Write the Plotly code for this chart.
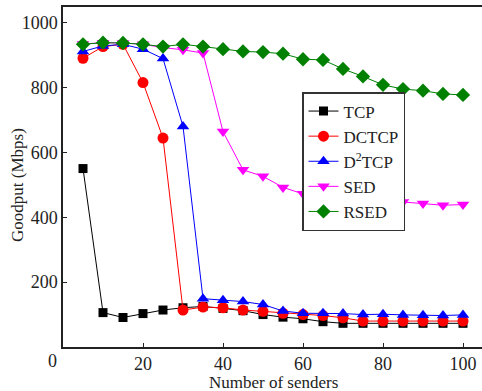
import plotly.graph_objects as go

senders = [5, 10, 15, 20, 25, 30, 35, 40, 45, 50, 55, 60, 65, 70, 75, 80, 85, 90, 95, 100]
tcp = [550, 106, 91, 103, 114, 121, 125, 119, 112, 100, 92, 87, 78, 73, 73, 73, 73, 73, 73, 73]
dctcp = [890, 926, 933, 815, 644, 114, 123, 121, 114, 110, 104, 100, 97, 90, 80, 80, 80, 80, 80, 80]
d2tcp = [911, 928, 933, 918, 889, 680, 149, 144, 140, 131, 111, 104, 104, 103, 100, 101, 99, 98, 97, 99]
sed = [934, 938, 937, 933, 923, 916, 906, 664, 546, 526, 492, 472, 465, 463, 463, 457, 447, 442, 437, 439]
rsed = [933, 938, 937, 933, 926, 933, 926, 918, 911, 909, 904, 887, 885, 857, 834, 808, 795, 790, 780, 777]

series = [
    ("TCP", tcp, "#000000", "square", 9),
    ("DCTCP", dctcp, "#ff0000", "circle", 11),
    ("D<sup>2</sup>TCP", d2tcp, "#0000ff", "triangle-up", 11),
    ("SED", sed, "#ff00ff", "triangle-down", 11),
    ("RSED", rsed, "#008000", "diamond", 11),
]

W, H = 482, 391
L, R, T, B = 63, 0, 7, 44
pw, ph = W - L - R, H - T - B

fig = go.Figure()
for name, ys, color, sym, size in series:
    fig.add_trace(go.Scatter(
        x=senders, y=ys, name=name, mode="lines+markers",
        line=dict(color=color, width=1),
        marker=dict(symbol=sym, size=size, color=color),
    ))

SERIF = "Liberation Serif"
font = dict(family=SERIF, size=18, color="#222")
title_font = dict(family=SERIF, size=17, color="#222")

def px(xpix):
    return (xpix - L) / pw

def py(ypix):
    return (H - B - ypix) / ph

fig.update_layout(
    width=W, height=H,
    margin=dict(l=L, r=R, t=T, b=B, autoexpand=False),
    plot_bgcolor="white", paper_bgcolor="white",
    font=font,
    showlegend=True,
    legend=dict(x=px(302), y=py(92), xanchor="left", yanchor="top",
                bgcolor="white", bordercolor="#333", borderwidth=1.5,
                font=dict(family=SERIF, size=17, color="#222"),
                itemwidth=30),
    xaxis=dict(range=[0, (W - L) / 4.0], tickvals=[20, 40, 60, 80, 100],
               ticks="inside", ticklen=4, tickcolor="#222",
               showline=True, linecolor="#222", linewidth=1.5, mirror=True,
               showgrid=False, zeroline=False, automargin=False),
    yaxis=dict(range=[0, 1048], tickvals=[200, 400, 600, 800, 1000],
               ticks="inside", ticklen=4, tickcolor="#222",
               showline=True, linecolor="#222", linewidth=1.5, mirror=False,
               showgrid=False, zeroline=False, automargin=False),
    annotations=[
        dict(text="0", x=px(52), y=py(361), xref="paper", yref="paper", showarrow=False,
             font=font, xanchor="center", yanchor="middle"),
        dict(text="Number of senders", x=px(273), y=py(382), xref="paper", yref="paper",
             showarrow=False, font=title_font, xanchor="center", yanchor="middle"),
        dict(text="Goodput (Mbps)", x=px(17), y=py(185), xref="paper", yref="paper",
             showarrow=False, font=title_font, xanchor="center", yanchor="middle", textangle=-90),
    ],
)

fig.write_html("out.html", config={"displayModeBar": False},
               post_script="document.body.style.margin='0';")
